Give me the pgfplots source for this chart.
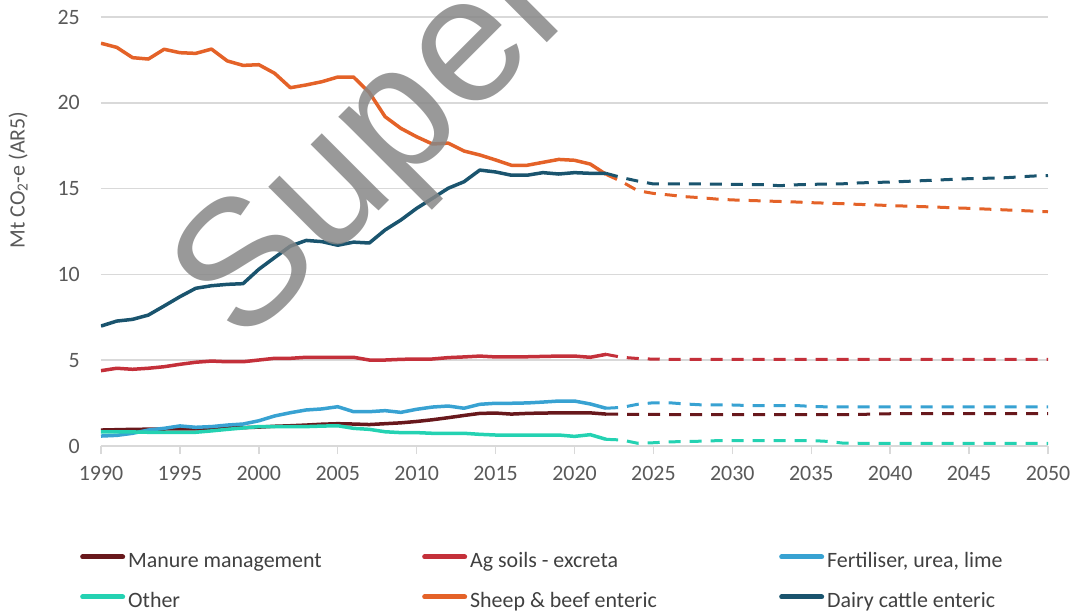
\documentclass[border=0pt]{standalone}
\usepackage{pgfplots}
\pgfplotsset{compat=1.18}
\usepackage{fontspec}
\setmainfont{Carlito}
\newfontfamily\wmfont{Liberation Sans}
\definecolor{cManure}{RGB}{104,24,28}
\definecolor{cAg}{RGB}{196,48,58}
\definecolor{cFert}{RGB}{56,162,210}
\definecolor{cOther}{RGB}{36,210,178}
\definecolor{cSheep}{RGB}{228,98,40}
\definecolor{cDairy}{RGB}{26,84,110}
\definecolor{tickgray}{RGB}{89,89,89}
\definecolor{gridgray}{RGB}{217,217,217}
\begin{document}
\begin{tikzpicture}
\useasboundingbox (-101bp,-168bp) rectangle (977bp,446bp);
\clip (-101bp,-168bp) rectangle (977bp,446bp);
\begin{axis}[
  at={(0,0)}, anchor=south west,
  scale only axis, width=947bp, height=429bp,
  xmin=1990, xmax=2050, ymin=0, ymax=25,
  xtick={1990,1995,...,2050}, ytick={0,5,...,25},
  axis x line*=bottom, axis y line*=left,
  y axis line style={draw=none},
  x axis line style={draw=gridgray, line width=1.5bp},
  ytick style={draw=none},
  xtick style={draw=gridgray, line width=1.5bp},
  tick align=outside, major tick length=8bp,
  ymajorgrids, grid style={draw=gridgray, line width=1.5bp},
  /pgf/number format/.cd, set thousands separator={}, assume math mode=true, /pgfplots/.cd,
  ticklabel style={font=\fontsize{22}{26}\selectfont, text=tickgray},
  yticklabel style={anchor=east, inner sep=0pt, xshift=-13bp},
  xticklabel style={anchor=north, inner sep=0pt, yshift=-12bp},
  ylabel={Mt CO\textsubscript{2}-e (AR5)},
  ylabel style={at={(axis description cs:-0.0876,0.62)}, anchor=center, font=\fontsize{22}{26}\selectfont, text=tickgray},
  legend columns=3,
  legend cell align=left,
  legend style={draw=none, fill=none, inner sep=0pt, at={(axis description cs:-0.0222,-0.2487)}, anchor=north west,
    font=\fontsize{22}{26}\selectfont, text=black!75, row sep=20bp,
    nodes={inner sep=0pt, text height=15bp, text depth=5bp},
    /tikz/every odd column/.style={column sep=3bp}},
  legend image code/.code={\draw[#1, line width=5bp, line cap=round, solid] (2.5bp,6bp) -- (42.5bp,6bp);},
  every axis plot/.append style={line width=3.5bp, line join=round},
]
% solid historical
\addplot[cManure] coordinates {(1990,0.93)(1991,0.95)(1992,0.97)(1993,0.98)(1994,0.99)(1995,1.0)(1996,1.0)(1997,1.02)(1998,1.05)(1999,1.07)(2000,1.1)(2001,1.15)(2002,1.18)(2003,1.22)(2004,1.27)(2005,1.3)(2006,1.28)(2007,1.25)(2008,1.3)(2009,1.35)(2010,1.43)(2011,1.53)(2012,1.65)(2013,1.78)(2014,1.9)(2015,1.92)(2016,1.86)(2017,1.9)(2018,1.92)(2019,1.93)(2020,1.93)(2021,1.93)(2022,1.86)};
\addlegendentry{\makebox[294bp][l]{Manure management}}
\addplot[cAg] coordinates {(1990,4.39)(1991,4.53)(1992,4.47)(1993,4.53)(1994,4.62)(1995,4.76)(1996,4.88)(1997,4.95)(1998,4.91)(1999,4.91)(2000,5.01)(2001,5.11)(2002,5.11)(2003,5.17)(2004,5.17)(2005,5.17)(2006,5.17)(2007,5.01)(2008,5.01)(2009,5.05)(2010,5.07)(2011,5.07)(2012,5.15)(2013,5.19)(2014,5.24)(2015,5.19)(2016,5.19)(2017,5.2)(2018,5.22)(2019,5.24)(2020,5.24)(2021,5.17)(2022,5.34)};
\addlegendentry{\makebox[309bp][l]{Ag soils - excreta}}
\addplot[cFert] coordinates {(1990,0.58)(1991,0.62)(1992,0.74)(1993,0.93)(1994,1.03)(1995,1.17)(1996,1.09)(1997,1.13)(1998,1.22)(1999,1.28)(2000,1.47)(2001,1.75)(2002,1.94)(2003,2.10)(2004,2.16)(2005,2.29)(2006,2.0)(2007,2.0)(2008,2.06)(2009,1.96)(2010,2.14)(2011,2.27)(2012,2.33)(2013,2.20)(2014,2.43)(2015,2.49)(2016,2.49)(2017,2.51)(2018,2.56)(2019,2.62)(2020,2.62)(2021,2.45)(2022,2.20)};
\addlegendentry{Fertiliser, urea, lime}
\addplot[cOther] coordinates {(1990,0.83)(1991,0.83)(1992,0.82)(1993,0.8)(1994,0.8)(1995,0.8)(1996,0.8)(1997,0.88)(1998,0.97)(1999,1.05)(2000,1.13)(2001,1.13)(2002,1.13)(2003,1.13)(2004,1.16)(2005,1.18)(2006,1.03)(2007,0.97)(2008,0.83)(2009,0.78)(2010,0.78)(2011,0.74)(2012,0.74)(2013,0.74)(2014,0.68)(2015,0.64)(2016,0.64)(2017,0.64)(2018,0.64)(2019,0.64)(2020,0.56)(2021,0.66)(2022,0.39)};
\addlegendentry{Other}
\addplot[cSheep] coordinates {(1990,23.47)(1991,23.23)(1992,22.63)(1993,22.55)(1994,23.12)(1995,22.92)(1996,22.88)(1997,23.13)(1998,22.44)(1999,22.18)(2000,22.22)(2001,21.72)(2002,20.88)(2003,21.04)(2004,21.23)(2005,21.50)(2006,21.50)(2007,20.6)(2008,19.19)(2009,18.51)(2010,18.02)(2011,17.6)(2012,17.65)(2013,17.19)(2014,16.96)(2015,16.67)(2016,16.36)(2017,16.36)(2018,16.53)(2019,16.70)(2020,16.65)(2021,16.43)(2022,15.83)};
\addlegendentry{\makebox[309bp][l]{Sheep \& beef enteric}}
\addplot[cDairy] coordinates {(1990,6.99)(1991,7.28)(1992,7.38)(1993,7.63)(1994,8.16)(1995,8.70)(1996,9.19)(1997,9.34)(1998,9.42)(1999,9.46)(2000,10.30)(2001,10.98)(2002,11.65)(2003,11.98)(2004,11.91)(2005,11.70)(2006,11.88)(2007,11.83)(2008,12.59)(2009,13.17)(2010,13.85)(2011,14.43)(2012,15.02)(2013,15.40)(2014,16.08)(2015,15.97)(2016,15.78)(2017,15.78)(2018,15.93)(2019,15.85)(2020,15.93)(2021,15.89)(2022,15.89)};
\addlegendentry{Dairy cattle enteric}
% dashed projections
\addplot[cManure, forget plot, line width=3bp, dash pattern=on 12bp off 9bp] coordinates {(2022,1.86)(2023,1.85)(2024,1.84)(2025,1.84)(2026,1.83)(2027,1.83)(2028,1.83)(2029,1.83)(2030,1.83)(2031,1.83)(2032,1.83)(2033,1.83)(2034,1.83)(2035,1.83)(2036,1.83)(2037,1.83)(2038,1.84)(2039,1.86)(2040,1.88)(2041,1.88)(2042,1.88)(2043,1.88)(2044,1.88)(2045,1.88)(2046,1.88)(2047,1.88)(2048,1.88)(2049,1.88)(2050,1.88)};
\addplot[cAg, forget plot, line width=3bp, dash pattern=on 12bp off 9bp] coordinates {(2022,5.34)(2023,5.17)(2024,5.10)(2025,5.06)(2026,5.05)(2030,5.05)(2035,5.05)(2040,5.05)(2045,5.05)(2050,5.05)};
\addplot[cFert, forget plot, line width=3bp, dash pattern=on 12bp off 9bp] coordinates {(2022,2.20)(2023,2.25)(2024,2.43)(2025,2.52)(2026,2.52)(2027,2.45)(2028,2.40)(2029,2.39)(2030,2.39)(2031,2.36)(2032,2.36)(2033,2.36)(2034,2.36)(2035,2.31)(2036,2.28)(2040,2.28)(2045,2.28)(2050,2.28)};
\addplot[cOther, forget plot, line width=3bp, dash pattern=on 12bp off 9bp] coordinates {(2022,0.39)(2023,0.35)(2024,0.16)(2025,0.19)(2026,0.24)(2027,0.26)(2028,0.28)(2029,0.31)(2030,0.32)(2031,0.32)(2032,0.32)(2033,0.32)(2034,0.32)(2035,0.32)(2036,0.27)(2037,0.17)(2038,0.16)(2040,0.16)(2045,0.16)(2050,0.16)};
\addplot[cSheep, forget plot, line width=3bp, dash pattern=on 12bp off 9bp] coordinates {(2022,15.83)(2023,15.40)(2024,14.88)(2025,14.72)(2026,14.63)(2027,14.53)(2028,14.47)(2029,14.39)(2030,14.34)(2031,14.31)(2032,14.28)(2033,14.25)(2034,14.22)(2035,14.18)(2036,14.15)(2037,14.12)(2038,14.08)(2039,14.05)(2040,14.01)(2041,13.98)(2042,13.95)(2043,13.92)(2044,13.88)(2045,13.85)(2046,13.81)(2047,13.77)(2048,13.73)(2049,13.69)(2050,13.65)};
\addplot[cDairy, forget plot, line width=3bp, dash pattern=on 12bp off 9bp] coordinates {(2022,15.89)(2023,15.64)(2024,15.44)(2025,15.27)(2026,15.27)(2027,15.27)(2028,15.27)(2029,15.26)(2030,15.25)(2031,15.24)(2032,15.23)(2033,15.17)(2034,15.22)(2035,15.25)(2036,15.26)(2037,15.28)(2038,15.33)(2039,15.36)(2040,15.38)(2041,15.42)(2042,15.46)(2043,15.50)(2044,15.54)(2045,15.58)(2046,15.60)(2047,15.62)(2048,15.67)(2049,15.73)(2050,15.76)};
\end{axis}
\node[rotate=45, anchor=base west, inner sep=0pt, font=\wmfont\fontsize{180}{180}\selectfont, text=black!47, text opacity=0.85] at (141.5bp,98.5bp) {Super};
\end{tikzpicture}
\end{document}
